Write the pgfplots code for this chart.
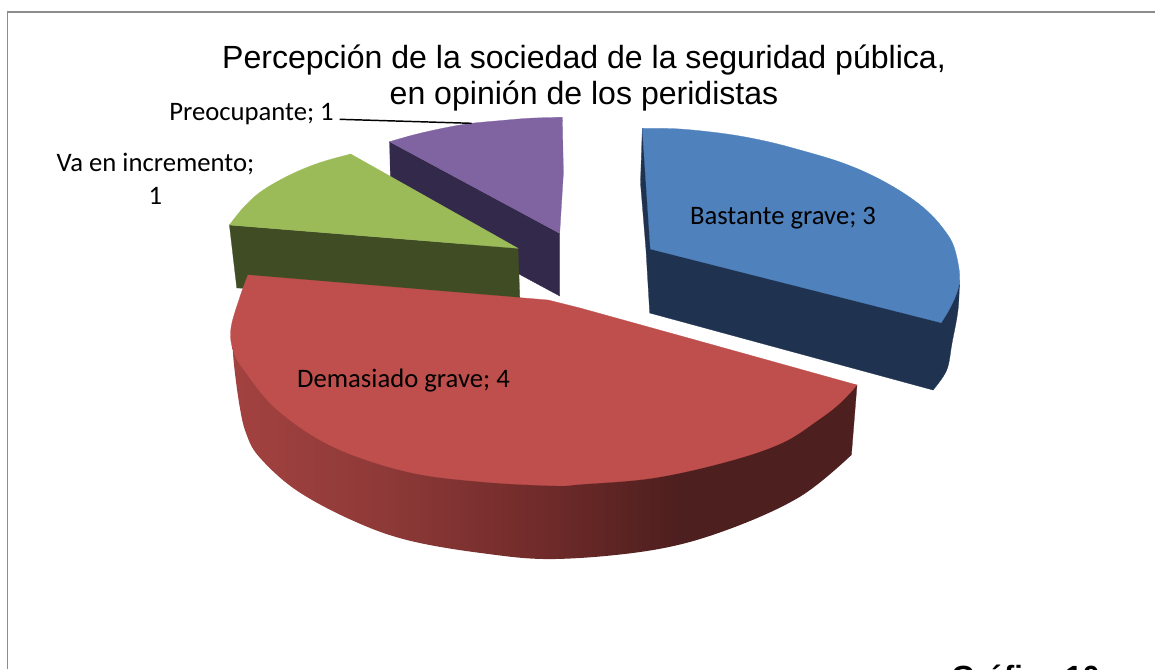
\documentclass[border=0pt]{standalone}
\usepackage{pgfplots}
\pgfplotsset{compat=1.18}
\usepackage{fontspec}
\setmainfont{Liberation Sans}
\newfontfamily\calib{Carlito}
\definecolor{bluetop}{HTML}{4F81BD}
\definecolor{bluedark}{HTML}{1F3350}
\definecolor{redtop}{HTML}{BE4F4C}
\definecolor{greentop}{HTML}{9BBB59}
\definecolor{greendark}{HTML}{404D24}
\definecolor{purptop}{HTML}{8064A2}
\definecolor{purpdark}{HTML}{33294A}
\definecolor{rs1}{HTML}{A34240}
\definecolor{rs2}{HTML}{8E3A38}
\definecolor{rs3}{HTML}{702B2A}
\definecolor{rs4}{HTML}{4D1F1E}
\pgfdeclarehorizontalshading{redside}{100bp}{
 color(0bp)=(rs1);
 color(25bp)=(rs1);
 color(37bp)=(rs2);
 color(50bp)=(rs3);
 color(61bp)=(rs4);
 color(100bp)=(rs4)}
\pgfplotsset{arcfill/.style={smooth,tension=0.6,fill=#1,draw=#1,line width=0.2pt,mark=none},
 polyfill/.style={fill=#1,draw=#1,line width=0.2pt,mark=none}}
\begin{document}
\begin{tikzpicture}
\path[use as bounding box,clip] (0,0) rectangle (866.25pt,501.75pt);
\begin{axis}[at={(0,0)},anchor=south west,scale only axis,width=866.25pt,height=501.75pt,
 xmin=0,xmax=1155,ymin=0,ymax=669,y dir=reverse,hide axis,clip=false]
% frame
\addplot[draw=black!45,line width=1.1pt] coordinates {(7.5,669) (7.5,12) (1155,12)};
% blue
\addplot[polyfill=bluedark] coordinates {(642.3,128.3) (640.5,183) (646,250) (649.7,313) (933,390) (950,340) (959.5,285) (941,322) (642.3,128.3)};
\addplot[arcfill=bluedark] coordinates {(959.5,280) (958,310) (952,343) (946.7,370) (933,390)};
\addplot[arcfill=bluetop] coordinates {(642.3,128.3) (680,129) (726.7,134) (765,141) (800,150) (840,162) (873.4,176) (905,194) (928.4,212) (945,231) (954,247) (959.5,273) (957.7,290) (950,308) (941.2,322.7)};
\addplot[polyfill=bluetop] coordinates {(642.3,128.3) (820,200) (941.2,322.7) (650.4,249) (642.3,128.3)};
% purple
\addplot[polyfill=purpdark] coordinates {(389.6,141.7) (559.7,233.3) (559.7,296) (391,205) (389.6,141.7)};
\addplot[arcfill=purptop] coordinates {(389.6,141.7) (415,134.5) (444,128) (470,123.5) (499.4,120.7) (530,118.2) (562.3,117.3)};
\addplot[polyfill=purptop] coordinates {(389.6,141.7) (470,127) (562.3,117.3) (563.4,173) (559.7,233.3) (389.6,141.7)};
% green
\addplot[polyfill=greendark] coordinates {(229.4,225) (518,248.3) (519.8,298) (236.8,288) (229.4,225)};
\addplot[arcfill=greentop] coordinates {(229.4,225) (243,208) (259,193) (280,180) (303,169) (325,161) (350.7,154)};
\addplot[polyfill=greentop] coordinates {(350.7,154) (518,248.3) (229.4,225) (288,185) (350.7,154)};
% red
\addplot[shading=redside,smooth,tension=0.6,draw=none,mark=none] coordinates {(232,335) (234,365) (239.7,406.7) (246,433) (259,456.7) (296,490) (351.5,520) (407,540) (481,553) (555,559) (653,550) (726.7,530) (800,496.7) (851.4,455)};
\addplot[polyfill=rs4] coordinates {(851.4,455) (857,385) (760,445) (851.4,455)};
\addplot[arcfill=redtop] coordinates {(857,385) (840,403) (818,420) (781.7,443) (726.7,461.7) (653,478) (580,484.3) (555,485.7) (481,481.7) (407,471.7) (333,446.7) (277.5,410) (244,370) (233,350) (231,328) (240,296.7) (248,275)};
\addplot[polyfill=redtop] coordinates {(248,275) (548,300) (580,308) (695.5,340) (857,385) (560,400) (248,275)};
% leader
\addplot[black,line width=1.1pt] coordinates {(339.6,119.3) (471.7,123.3)};
% text
\node[align=center,font=\fontsize{24.05pt}{27.7pt}\selectfont,inner sep=0pt] at (axis cs:584,78) {Percepción de la sociedad de la seguridad pública,\\en opinión de los peridistas};
\node[font=\calib\fontsize{20pt}{24pt}\selectfont,inner sep=0pt] at (axis cs:251.5,114.5) {Preocupante; 1};
\node[font=\calib\fontsize{20pt}{24pt}\selectfont,inner sep=0pt] at (axis cs:155.5,164.5) {Va en incremento;};
\node[font=\calib\fontsize{20pt}{24pt}\selectfont,inner sep=0pt] at (axis cs:155.5,196) {1};
\node[font=\calib\fontsize{20pt}{24pt}\selectfont,inner sep=0pt] at (axis cs:783,218) {Bastante grave; 3};
\node[font=\calib\fontsize{20pt}{24pt}\selectfont,inner sep=0pt] at (axis cs:403.5,381) {Demasiado grave; 4};
\node[font=\bfseries\fontsize{23pt}{27pt}\selectfont,inner sep=0pt,anchor=base west] at (axis cs:951,687) {Gráfica 10};
\end{axis}
\end{tikzpicture}
\end{document}
